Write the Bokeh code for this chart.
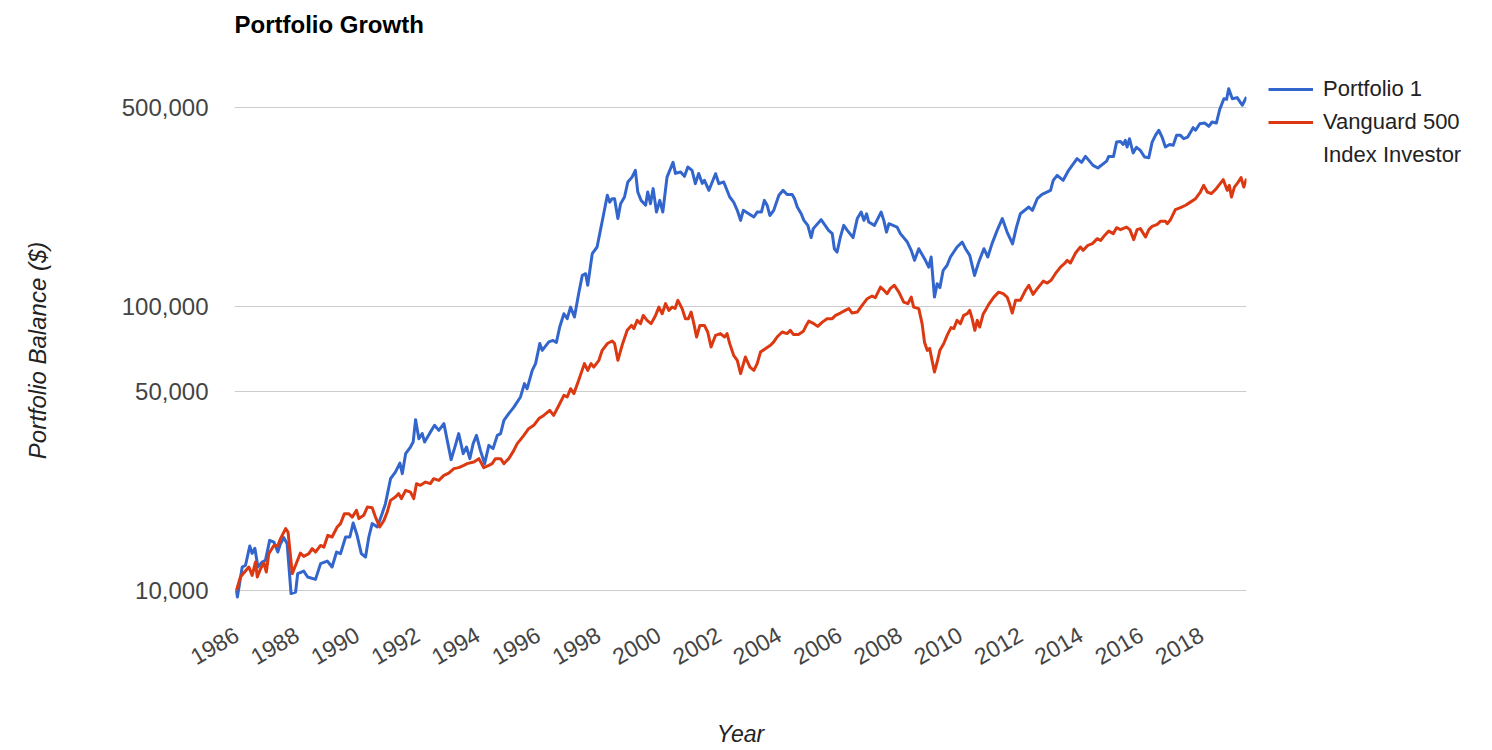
import math
from bokeh.plotting import figure
from bokeh.models import (Range1d, FixedTicker, NumeralTickFormatter, Legend,
                          LegendItem, Title)
from bokeh.embed import file_html
from bokeh.resources import INLINE

# ---- data ----
years_ticks = [1986, 1988, 1990, 1992, 1994, 1996, 1998, 2000, 2002, 2004,
               2006, 2008, 2010, 2012, 2014, 2016, 2018]
balance_ticks = [10000, 50000, 100000, 500000]

p1_year = [1986.00,1986.03,1986.19,1986.30,1986.44,1986.52,1986.61,1986.71,1986.85,1986.96,
1987.10,1987.24,1987.37,1987.46,1987.57,1987.68,1987.81,1987.96,1988.03,1988.23,
1988.36,1988.62,1988.79,1989.01,1989.17,1989.32,1989.45,1989.62,1989.76,1989.87,
1990.00,1990.14,1990.28,1990.39,1990.50,1990.67,1990.83,1990.94,1991.11,1991.27,
1991.42,1991.50,1991.61,1991.77,1991.86,1991.94,1992.05,1992.16,1992.24,1992.43,
1992.57,1992.71,1992.88,1992.99,1993.12,1993.26,1993.37,1993.52,1993.63,1993.74,
1993.85,1993.96,1994.09,1994.23,1994.37,1994.51,1994.65,1994.76,1994.87,1995.03,
1995.20,1995.42,1995.55,1995.64,1995.81,1995.92,1996.06,1996.14,1996.36,1996.50,
1996.61,1996.72,1996.86,1996.97,1997.08,1997.21,1997.35,1997.47,1997.58,1997.65,
1997.80,1997.96,1998.07,1998.18,1998.30,1998.38,1998.46,1998.54,1998.65,1998.74,
1998.87,1998.98,1999.12,1999.23,1999.31,1999.42,1999.57,1999.64,1999.73,1999.82,
1999.93,2000.04,2000.14,2000.28,2000.48,2000.56,2000.73,2000.86,2000.97,2001.11,
2001.22,2001.33,2001.45,2001.52,2001.67,2001.89,2002.00,2002.16,2002.36,2002.49,
2002.61,2002.72,2002.81,2002.99,2003.16,2003.27,2003.41,2003.51,2003.60,2003.69,
2003.82,2003.99,2004.13,2004.26,2004.43,2004.51,2004.60,2004.73,2004.82,2004.95,
2005.06,2005.13,2005.39,2005.64,2005.76,2005.83,2005.92,2006.03,2006.14,2006.26,
2006.45,2006.59,2006.72,2006.81,2006.90,2006.97,2007.16,2007.38,2007.47,2007.56,
2007.64,2007.91,2008.02,2008.25,2008.38,2008.49,2008.63,2008.85,2008.96,2009.04,
2009.15,2009.24,2009.33,2009.44,2009.57,2009.68,2009.90,2010.07,2010.18,2010.32,
2010.48,2010.62,2010.79,2010.92,2011.06,2011.23,2011.40,2011.56,2011.74,2011.87,
2012.00,2012.28,2012.40,2012.56,2012.72,2013.00,2013.09,2013.22,2013.42,2013.60,
2013.88,2014.03,2014.16,2014.41,2014.57,2014.86,2014.93,2015.09,2015.19,2015.32,
2015.41,2015.48,2015.54,2015.62,2015.74,2015.85,2015.98,2016.12,2016.26,2016.37,
2016.48,2016.59,2016.70,2016.81,2016.95,2017.07,2017.18,2017.31,2017.42,2017.55,
2017.73,2017.81,2017.95,2018.11,2018.25,2018.36,2018.50,2018.61,2018.75,2018.84,
2018.91,2019.03,2019.19,2019.36,2019.50]

p1_value = [10000,9470,12080,12250,14320,13490,14060,12080,12580,12750,
15000,14790,13640,14600,15330,14600,9740,9860,11450,11690,
11140,10930,12420,12680,12080,13640,13460,15410,15410,17260,
15620,13460,13100,15410,17180,16710,18620,20190,24720,26090,
28050,25760,30290,31960,33270,39900,34200,35640,33270,36060,
38110,36590,38640,33740,28860,32400,35640,30290,31960,29090,
32860,35140,31110,27930,32400,31550,35140,35640,39680,41880,
44160,47970,53460,51290,59530,62850,73960,70000,74990,75860,
74640,84530,94200,90500,99400,91700,110900,128500,130300,118600,
153300,161800,185200,211800,246000,232800,239300,239300,203700,229900,
242700,274000,285100,301300,252700,236100,227000,252700,229900,259700,
214800,236100,214800,285100,321400,293800,297200,286900,309400,301300,
270400,293800,271000,277800,256200,293100,270400,274000,242700,232800,
217800,200800,217800,211800,206300,214800,214800,236100,227000,208900,
217800,246000,256200,247800,247800,239300,223700,211800,200800,192800,
174600,187800,201900,185200,180300,159600,155300,175400,192800,185200,
174600,203700,214800,200800,211800,198100,192800,214800,200800,182600,
195400,190200,180300,168400,157400,145200,159600,145200,137500,149200,
107800,120200,116400,133900,139500,149200,161800,168400,159600,151200,
128500,143200,159600,149200,166300,185200,203700,182600,166000,190200,
211800,223700,217800,239300,247800,256200,277800,289100,277800,301300,
331100,321400,337300,313700,306900,324800,337300,337300,378800,380800,
371500,384100,363900,389200,346700,363100,354000,335500,333800,378800,
400000,416900,394500,363900,371500,369000,400000,400000,389200,394500,
425800,416900,439700,442100,430500,445700,442100,492700,538300,535800,
584200,538300,543300,510500,545800]

v500_year = [1986.00,1986.13,1986.27,1986.41,1986.52,1986.63,1986.69,1986.80,1986.91,1986.99,
1987.07,1987.24,1987.37,1987.46,1987.63,1987.71,1987.85,1987.96,1988.12,1988.23,
1988.40,1988.51,1988.62,1988.79,1988.90,1989.03,1989.17,1989.34,1989.45,1989.58,
1989.72,1989.84,1989.98,1990.06,1990.22,1990.34,1990.50,1990.61,1990.75,1990.89,
1991.00,1991.11,1991.27,1991.38,1991.47,1991.61,1991.77,1991.88,1991.97,1992.10,
1992.27,1992.43,1992.54,1992.71,1992.88,1993.04,1993.21,1993.37,1993.54,1993.65,
1993.87,1994.04,1994.20,1994.37,1994.48,1994.59,1994.76,1994.87,1994.92,1995.03,
1995.20,1995.31,1995.40,1995.53,1995.69,1995.86,1996.03,1996.19,1996.39,1996.52,
1996.69,1996.86,1996.97,1997.08,1997.19,1997.35,1997.54,1997.65,1997.76,1997.85,
1998.02,1998.13,1998.30,1998.46,1998.54,1998.65,1998.79,1998.96,1999.10,1999.18,
1999.29,1999.40,1999.49,1999.62,1999.75,1999.90,2000.01,2000.12,2000.23,2000.34,
2000.45,2000.55,2000.64,2000.78,2000.89,2000.99,2001.08,2001.17,2001.26,2001.37,
2001.52,2001.63,2001.74,2001.89,2002.05,2002.19,2002.27,2002.36,2002.49,2002.61,
2002.72,2002.88,2003.03,2003.16,2003.27,2003.38,2003.55,2003.71,2003.82,2003.93,
2004.10,2004.26,2004.37,2004.47,2004.64,2004.80,2004.87,2004.98,2005.15,2005.28,
2005.43,2005.59,2005.76,2005.87,2006.03,2006.19,2006.31,2006.42,2006.59,2006.75,
2006.92,2007.08,2007.19,2007.36,2007.48,2007.58,2007.69,2007.82,2007.97,2008.13,
2008.27,2008.38,2008.46,2008.63,2008.74,2008.82,2008.91,2008.99,2009.07,2009.15,
2009.24,2009.33,2009.46,2009.57,2009.70,2009.79,2009.90,2010.01,2010.12,2010.24,
2010.32,2010.40,2010.49,2010.57,2010.65,2010.77,2010.84,2010.95,2011.12,2011.28,
2011.43,2011.56,2011.64,2011.73,2011.84,2012.00,2012.17,2012.28,2012.42,2012.56,
2012.76,2012.89,2013.02,2013.16,2013.33,2013.46,2013.55,2013.66,2013.83,2013.99,
2014.08,2014.24,2014.39,2014.55,2014.66,2014.77,2014.93,2015.08,2015.19,2015.32,
2015.52,2015.63,2015.76,2015.87,2015.98,2016.15,2016.26,2016.37,2016.54,2016.65,
2016.81,2016.87,2016.98,2017.14,2017.31,2017.48,2017.64,2017.81,2017.97,2018.08,
2018.20,2018.33,2018.47,2018.58,2018.73,2018.86,2018.93,2019.00,2019.10,2019.22,
2019.32,2019.41,2019.50]

v500_value = [10000,11140,11600,12080,11290,12580,11140,11920,12480,11600,
13460,14390,14340,15210,16490,16040,11450,12250,13530,13170,
13460,14020,13640,14390,14200,15620,15410,16710,17180,18620,
18620,18110,19130,17890,18370,19650,19550,18110,16710,17640,
18870,20740,21310,21910,21040,22490,22180,21040,23750,23430,
24050,23750,24730,24390,25410,25880,26830,27040,27540,27930,
28300,29090,27040,27540,27930,29090,29090,27930,28300,29090,
31110,32860,33740,35140,37070,38110,40240,41300,43050,41300,
44770,48600,47970,51290,49280,54890,62850,59530,62850,61100,
64570,70000,73960,75500,73960,64570,72910,82340,85700,83500,
89260,86900,92900,89260,86900,92900,99400,94200,102200,96800,
99400,98400,105000,98200,90500,90500,95500,86900,78000,85700,
85700,81200,71900,79060,80200,78000,80200,73900,67200,64570,
57940,66300,61100,59530,62850,69000,71000,72910,74990,78000,
81200,80200,82340,79600,79600,81660,84530,88700,86900,85000,
88000,90500,90500,92900,94700,96800,98200,94700,95500,100800,
106400,108700,107300,116900,113800,110800,115700,118600,112200,103500,
102200,107800,99400,98200,86900,74800,70000,71100,64570,58720,
63680,70000,73960,79060,84140,83500,89260,86900,92900,94200,
96800,90500,82340,89260,84530,94200,96800,101600,107800,112200,
110800,107800,102200,94700,105000,105000,113900,118600,110200,115400,
122700,120800,123500,130300,137500,141300,145200,142100,154100,161800,
157400,164000,166300,173100,170600,176400,184100,180300,189200,186200,
190200,186200,171800,186200,187800,175400,186200,191300,194400,199500,
199500,195400,201900,219000,222600,227000,232800,239300,252700,266700,
252700,249400,257600,266700,279300,256200,266700,242700,263000,273400,
284000,263000,281600]

assert len(p1_year) == len(p1_value), (len(p1_year), len(p1_value))
assert len(v500_year) == len(v500_value), (len(v500_year), len(v500_value))

FONT = "Liberation Sans"

p = figure(frame_width=1012, frame_height=560, y_axis_type="log",
           x_range=Range1d(1985.934, 2019.50), y_range=Range1d(7830, 734000),
           output_backend="svg", toolbar_location=None,
           min_border_left=234, min_border_right=246,
           min_border_top=60, min_border_bottom=128)

p.outline_line_color = None
p.background_fill_color = "white"

# spacer between frame and title (keeps the title high while the frame stays put)
p.add_layout(Title(text=" ", text_font_size="1px", standoff=20), "above")

# title
p.title.text = "Portfolio Growth"
p.title.text_font = FONT
p.title.text_font_size = "24px"
p.title.text_font_style = "bold"
p.title.text_color = "#000000"
p.title.align = "left"
p.title.offset = 0
p.title.standoff = 0

# lines
r1 = p.line(p1_year, p1_value, line_color="#3366cc", line_width=3, line_join="round")
r2 = p.line(v500_year, v500_value, line_color="#dc3912", line_width=3, line_join="round")
r_blank = p.line([], [], line_alpha=0)

# y axis
ya = p.yaxis[0]
ya.ticker = FixedTicker(ticks=balance_ticks)
ya.formatter = NumeralTickFormatter(format="0,0")
ya.axis_line_color = None
ya.major_tick_line_color = None
ya.minor_tick_line_color = None
ya.major_tick_out = 0
ya.major_tick_in = 0
ya.major_label_standoff = 26
ya.major_label_text_font = FONT
ya.major_label_text_font_size = "24px"
ya.major_label_text_color = "#444444"
ya.axis_label = "Portfolio Balance ($)\u00a0\u00a0\u00a0"
ya.axis_label_text_font = FONT
ya.axis_label_text_font_size = "24px"
ya.axis_label_text_font_style = "italic"
ya.axis_label_text_color = "#222222"
ya.axis_label_standoff = 68

# x axis
xa = p.xaxis[0]
xa.ticker = FixedTicker(ticks=years_ticks)
xa.axis_line_color = None
xa.major_tick_line_color = None
xa.minor_tick_line_color = None
xa.major_tick_out = 0
xa.major_tick_in = 0
xa.major_label_standoff = 12
xa.major_label_orientation = math.pi / 6
xa.major_label_text_font = FONT
xa.major_label_text_font_size = "23px"
xa.major_label_text_color = "#444444"
xa.axis_label = "Year"
xa.axis_label_text_font = FONT
xa.axis_label_text_font_size = "23px"
xa.axis_label_text_font_style = "italic"
xa.axis_label_text_color = "#222222"
xa.axis_label_standoff = 45

p.xgrid.grid_line_color = None
p.ygrid.grid_line_color = "#cccccc"
p.ygrid.grid_line_width = 1

legend = Legend(items=[LegendItem(label="Portfolio 1", renderers=[r1]),
                       LegendItem(label="Vanguard 500", renderers=[r2]),
                       LegendItem(label="Index Investor", renderers=[r_blank])],
                location=(22, 452), margin=0, padding=0, spacing=7,
                glyph_width=45, glyph_height=26, label_height=26,
                label_standoff=10, label_text_font=FONT,
                label_text_font_size="22px", label_text_color="#222222",
                border_line_color=None, background_fill_alpha=0)
p.add_layout(legend, "right")

open("out.html", "w").write(file_html(p, INLINE))
